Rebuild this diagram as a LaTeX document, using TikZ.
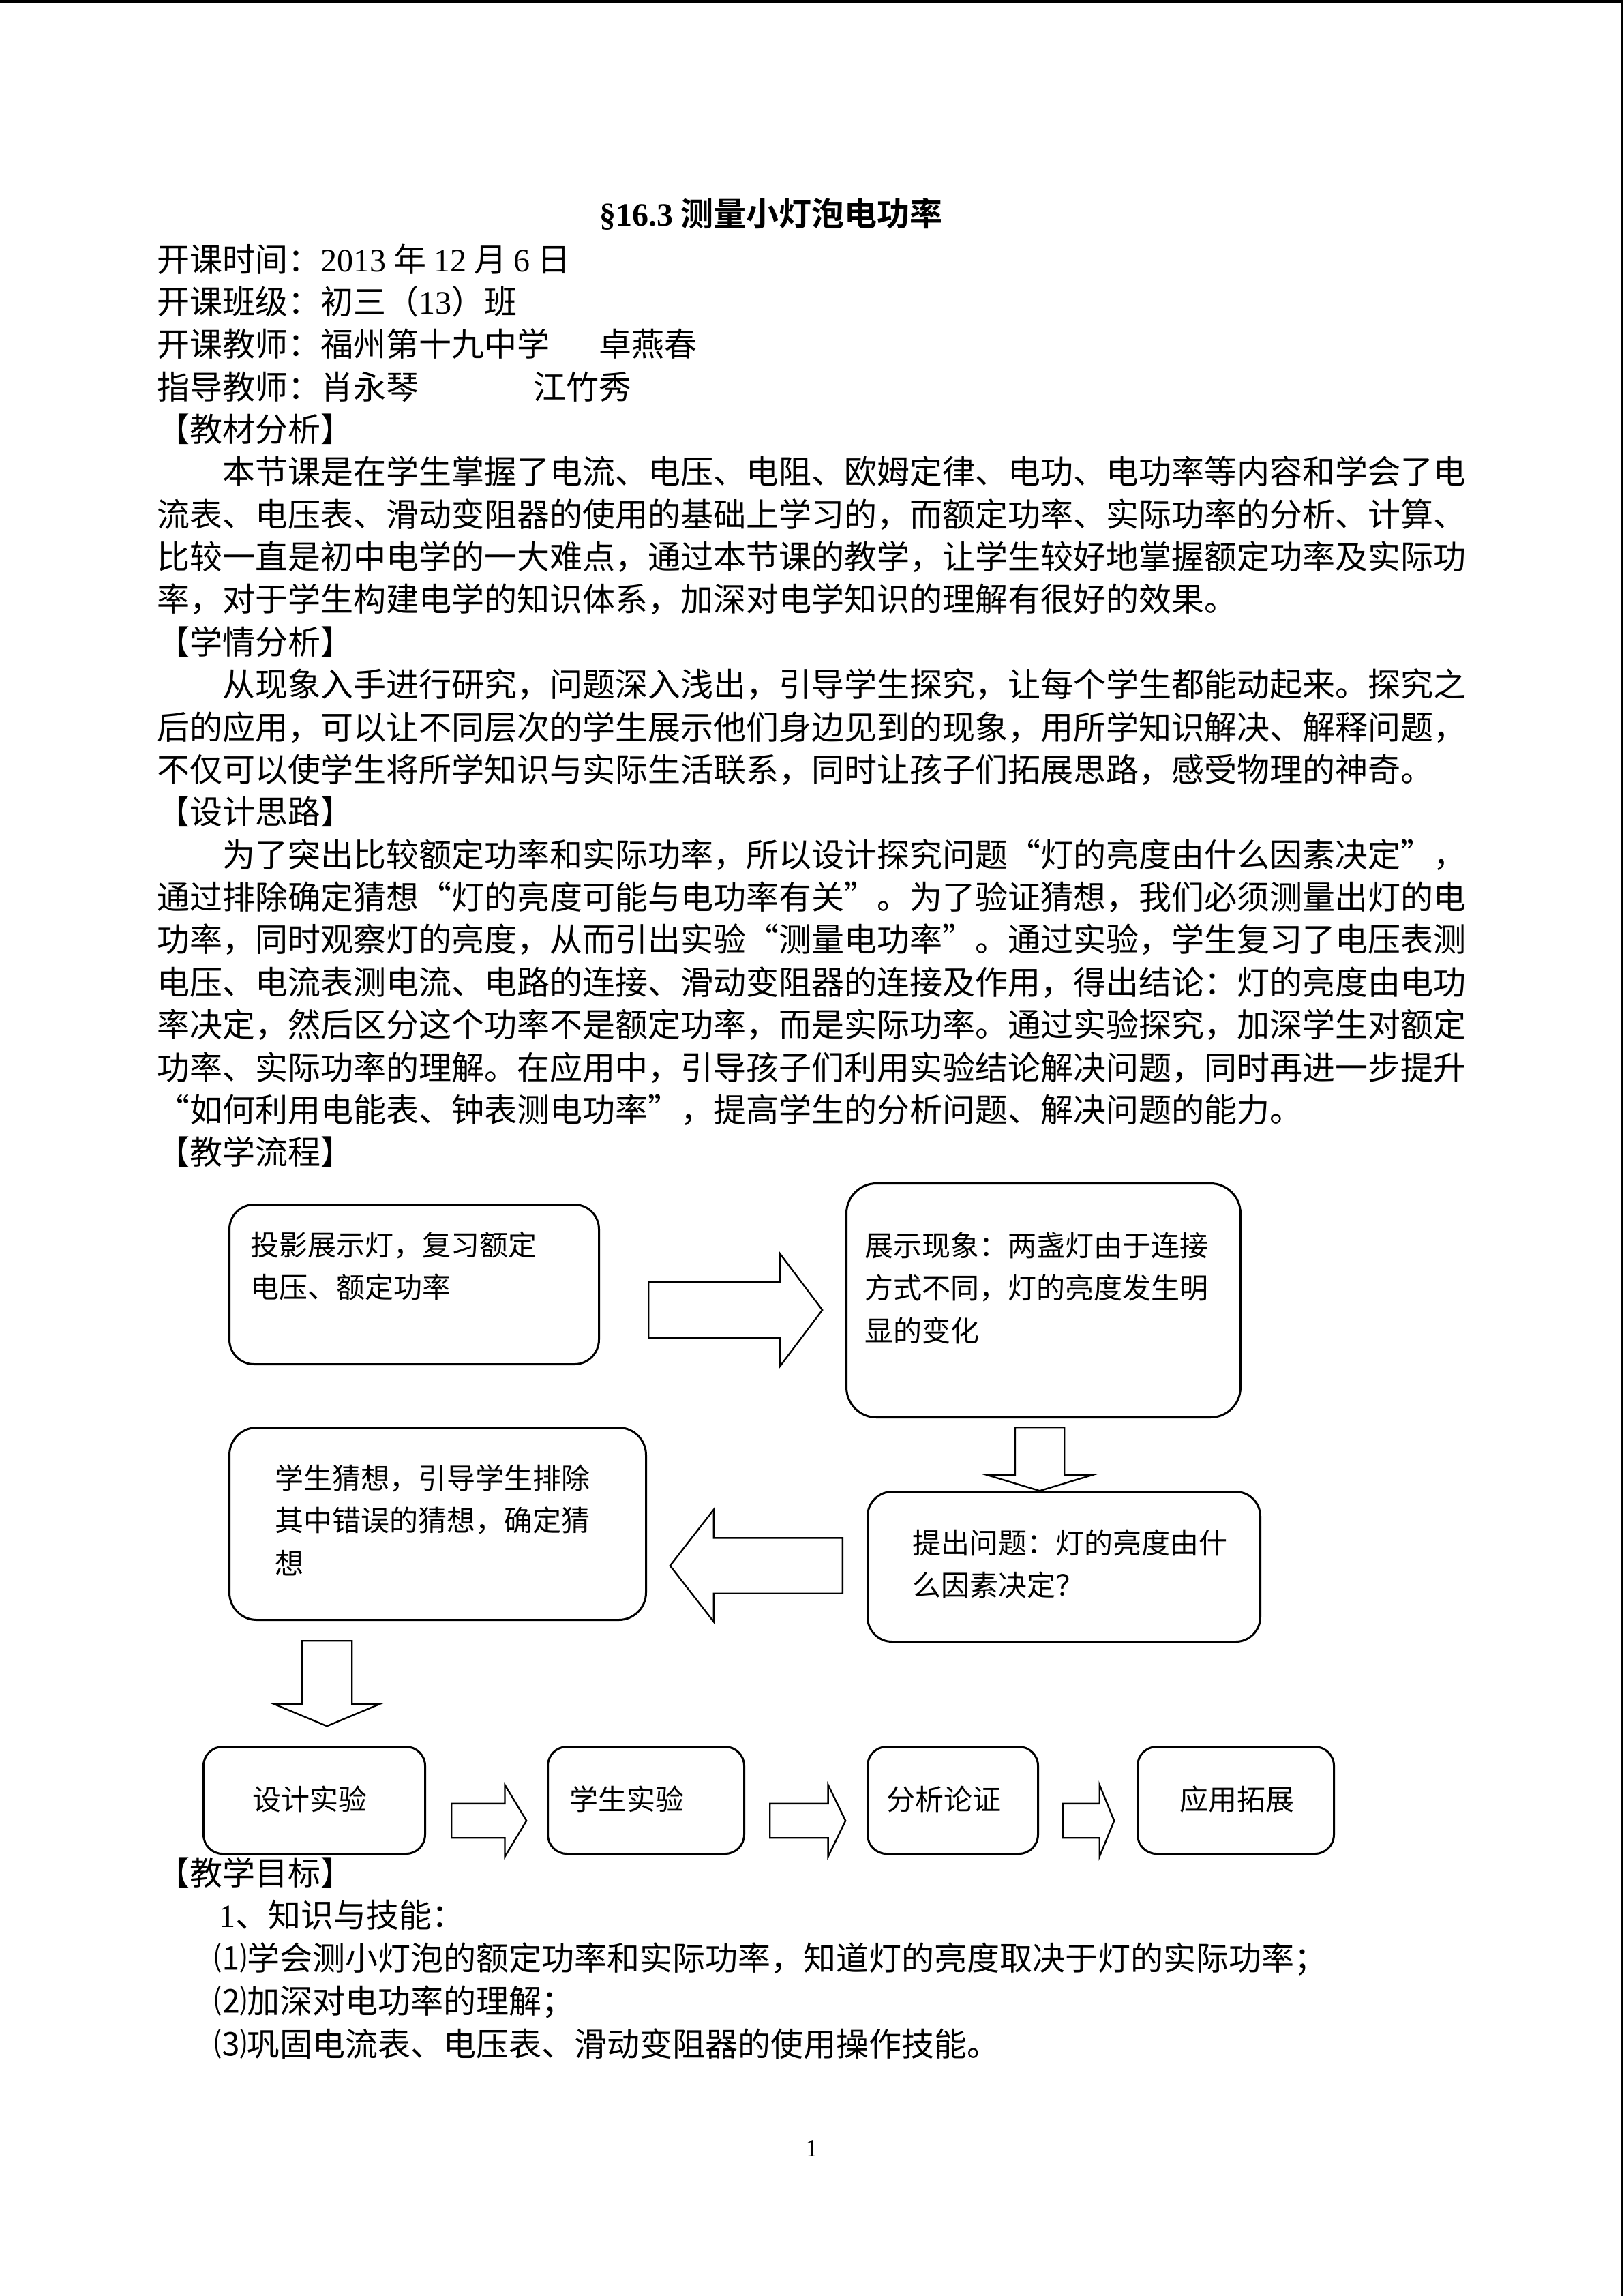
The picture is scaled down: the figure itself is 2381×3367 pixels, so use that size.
\documentclass[tikz,border=0pt]{standalone}
\usepackage{fontspec}
\setmainfont{Noto Sans CJK SC}[BoldFont={* Bold}]
\newfontfamily\tnr{Liberation Serif}
\newfontfamily\qfw{Noto Sans CJK SC}[RawFeature=+fwid]
\newcommand\oq{{\qfw “}}
\newcommand\cq{{\qfw ”}}
\usetikzlibrary{shapes.arrows}

\begin{document}
\begin{tikzpicture}[x=0.25pt, y=-0.25pt,
  txtline/.style={anchor=base west, inner sep=0pt, font=\fontsize{12pt}{15.6pt}\selectfont},
  flowbox/.style={draw, line width=0.75pt, anchor=north west, inner sep=0pt},
  boxtxt/.style={anchor=north west, inner sep=0pt, align=left,
    font=\fontsize{10.5pt}{15.6pt}\selectfont, execute at begin node={\rule{0pt}{10pt}}},
  blockarrow/.style={single arrow, draw, line width=0.6pt, anchor=tail, inner xsep=0pt}]
\useasboundingbox (0,0) rectangle (2381,3367);
\fill (0,0) rectangle (2381,3.5);
\draw[line width=0.4pt] (2379,0) -- (2379,3367);

\node[anchor=base, inner sep=0pt, font=\fontsize{12pt}{15.6pt}\selectfont\bfseries] (title) at (1131,331)
  {{\tnr §16.3} 测量小灯泡电功率};

\foreach \t [count=\i from 0] in {
  开课时间：{\tnr 2013} 年 {\tnr 12} 月 {\tnr 6} 日,
  开课班级：初三（{\tnr 13}）班,
  开课教师：福州第十九中学\hspace{18pt}卓燕春,
  指导教师：肖永琴\hspace{42pt}江竹秀,
  【教材分析】,
  　　本节课是在学生掌握了电流、电压、电阻、欧姆定律、电功、电功率等内容和学会了电,
  流表、电压表、滑动变阻器的使用的基础上学习的，而额定功率、实际功率的分析、计算、,
  比较一直是初中电学的一大难点，通过本节课的教学，让学生较好地掌握额定功率及实际功,
  率，对于学生构建电学的知识体系，加深对电学知识的理解有很好的效果。,
  【学情分析】,
  　　从现象入手进行研究，问题深入浅出，引导学生探究，让每个学生都能动起来。探究之,
  后的应用，可以让不同层次的学生展示他们身边见到的现象，用所学知识解决、解释问题，,
  不仅可以使学生将所学知识与实际生活联系，同时让孩子们拓展思路，感受物理的神奇。,
  【设计思路】,
  　　为了突出比较额定功率和实际功率，所以设计探究问题\oq 灯的亮度由什么因素决定\cq ，,
  通过排除确定猜想\oq 灯的亮度可能与电功率有关\cq 。为了验证猜想，我们必须测量出灯的电,
  功率，同时观察灯的亮度，从而引出实验\oq 测量电功率\cq 。通过实验，学生复习了电压表测,
  电压、电流表测电流、电路的连接、滑动变阻器的连接及作用，得出结论：灯的亮度由电功,
  率决定，然后区分这个功率不是额定功率，而是实际功率。通过实验探究，加深学生对额定,
  功率、实际功率的理解。在应用中，引导孩子们利用实验结论解决问题，同时再进一步提升,
  \oq 如何利用电能表、钟表测电功率\cq ，提高学生的分析问题、解决问题的能力。,
  【教学流程】}
  \node[txtline] (ln-\i) at (230,{398+62.37*\i}) {\t};

\node[flowbox, minimum width=135.5pt, minimum height=58.5pt, rounded corners=9pt] (b1) at (335,1765) {};
\node[flowbox, minimum width=144.5pt, minimum height=85.75pt, rounded corners=11pt] (b2) at (1240,1734) {};
\node[flowbox, minimum width=152.75pt, minimum height=70.5pt, rounded corners=10pt] (b3) at (335,2092) {};
\node[flowbox, minimum width=144pt, minimum height=55pt, rounded corners=9pt] (b4) at (1271,2186) {};
\node[flowbox, minimum width=81.25pt, minimum height=39.25pt, rounded corners=7pt] (b5) at (297,2560) {};
\node[flowbox, minimum width=72pt, minimum height=39.25pt, rounded corners=7pt] (b6) at (802,2560) {};
\node[flowbox, minimum width=62.5pt, minimum height=39.25pt, rounded corners=7pt] (b7) at (1271,2560) {};
\node[flowbox, minimum width=72pt, minimum height=39.25pt, rounded corners=7pt] (b8) at (1667,2560) {};

\node[boxtxt] (t1) at (367,1805) {投影展示灯，复习额定\\电压、额定功率};
\node[boxtxt] (t2) at (1268,1806) {展示现象：两盏灯由于连接\\方式不同，灯的亮度发生明\\显的变化};
\node[boxtxt] (t3) at (403,2147) {学生猜想，引导学生排除\\其中错误的猜想，确定猜\\想};
\node[boxtxt] (t4) at (1338,2242) {提出问题：灯的亮度由什\\么因素决定？};
\node[boxtxt] (t5) at (370,2614) {设计实验};
\node[boxtxt] (t6) at (835,2614) {学生实验};
\node[boxtxt] (t7) at (1300,2614) {分析论证};
\node[boxtxt] (t8) at (1730,2614) {应用拓展};

\node[blockarrow, minimum height=63.75pt, inner ysep=10pt, single arrow head extend=10.25pt,
  single arrow tip angle=106] (r1) at (950,1921) {};
\node[blockarrow, rotate=-90, minimum height=23.25pt, inner ysep=8.75pt, single arrow head extend=10.375pt,
  single arrow tip angle=146.5] (r2) at (1525,2092) {};
\node[blockarrow, rotate=180, minimum height=63.25pt, inner ysep=9.875pt, single arrow head extend=10.375pt,
  single arrow tip angle=104.2] (r3) at (1237,2296) {};
\node[blockarrow, rotate=-90, minimum height=31.25pt, inner ysep=8.875pt, single arrow head extend=10.375pt,
  single arrow tip angle=134.7] (r4) at (479.5,2405) {};
\foreach \x/\len/\ang [count=\i from 5] in {661/27.5/117.9, 1128/27.75/128.2, 1558/18.75/135.6}
  \node[blockarrow, minimum height=\len pt, inner ysep=6pt, single arrow head extend=6.875pt,
    single arrow tip angle=\ang] (r\i) at (\x,2670) {};

\foreach \t [count=\i from 0] in {
  【教学目标】,
  \hspace{22.75pt}{\tnr 1}、知识与技能：,
  \hspace{21pt}⑴学会测小灯泡的额定功率和实际功率，知道灯的亮度取决于灯的实际功率；,
  \hspace{21pt}⑵加深对电功率的理解；,
  \hspace{21pt}⑶巩固电流表、电压表、滑动变阻器的使用操作技能。}
  \node[txtline] (mb-\i) at (230,{2764+62.8*\i}) {\t};

\node[anchor=base, inner sep=0pt, font=\tnr\fontsize{9pt}{11pt}\selectfont] (pgno) at (1190,3162) {1};
\end{tikzpicture}
\end{document}
